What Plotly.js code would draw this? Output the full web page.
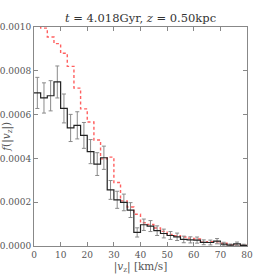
<!DOCTYPE html>
<html>
<head>
<meta charset="utf-8">
<script src="https://cdn.plot.ly/plotly-3.0.1.min.js"></script>
<style>html,body{margin:0;padding:0;background:#fff;}#chart{width:274px;height:274px;}</style>
</head>
<body>
<div id="chart"></div>
<script>
// bin edges in |v_z| [km/s]
var binEdges = [0,2.5,5,7.5,10,12.5,15,17.5,20,22.5,25,27.5,30,32.5,35,37.5,40,42.5,45,47.5,50,52.5,55,57.5,60,62.5,65,67.5,70,72.5,75,77.5,80];
var binCenters = [1.25,3.75,6.25,8.75,11.25,13.75,16.25,18.75,21.25,23.75,26.25,28.75,31.25,33.75,36.25,38.75,41.25,43.75,46.25,48.75,51.25,53.75,56.25,58.75,61.25,63.75,66.25,68.75,71.25,73.75,76.25,78.75];
// measured distribution (black)
var fMeasured = [0.000699,0.000676,0.000686,0.000749,0.000628,0.000539,0.000551,0.000505,0.000431,0.000374,0.000403,0.000256,0.000211,0.000199,0.000164,0.000062,0.000097,0.000091,0.000070,0.000057,0.000048,0.000042,0.000030,0.000028,0.000027,0.000017,0.000016,0.000022,0.000009,0.000004,0.000010,0.000003];
var fErr = [0.000071,0.000069,0.000069,0.000073,0.000066,0.000062,0.000062,0.000059,0.000055,0.000052,0.000053,0.000043,0.000039,0.000038,0.000034,0.000021,0.000026,0.000025,0.000022,0.000020,0.000018,0.000017,0.000015,0.000014,0.000014,0.000011,0.000011,0.000012,0.000008,0.000005,0.000008,0.000005];
// model distribution (red dashed)
var fModel = [0.00105,0.000995,0.000954,0.000924,0.000880,0.000820,0.000721,0.000626,0.000566,0.000484,0.000398,0.000406,0.000290,0.000206,0.000178,0.000145,0.000106,0.000098,0.000082,0.000067,0.000053,0.000047,0.000041,0.000036,0.000032,0.000017,0.000020,0.000019,0.000013,0.000006,0.000004,0.000002];

function stepY(v){ return v.concat([v[v.length-1]]); }

var font = "DejaVu Serif";
var traces = [
  {x: binEdges, y: stepY(fModel), mode: 'lines', line: {shape: 'hv', color: '#ff6060', width: 1.4, dash: '3px,2.5px'}, hoverinfo: 'skip'},
  {x: binCenters, y: fMeasured, mode: 'markers', marker: {size: 1, color: 'rgba(0,0,0,0)'},
   error_y: {type: 'data', array: fErr, visible: true, color: '#8a8a8a', thickness: 1, width: 2}, hoverinfo: 'skip'},
  {x: binEdges, y: stepY(fMeasured), mode: 'lines', line: {shape: 'hv', color: '#222', width: 1.2}, hoverinfo: 'skip'}
];

var axisCommon = {
  showgrid: false, zeroline: false, showline: true, linecolor: '#888', linewidth: 1,
  mirror: 'ticks', ticks: 'inside', ticklen: 4, tickcolor: '#888', tickwidth: 1,
  tickfont: {family: font, size: 9, color: '#555'}
};

var layout = {
  width: 274, height: 274,
  margin: {l: 34, r: 27, t: 27, b: 28},
  paper_bgcolor: '#fff', plot_bgcolor: '#fff',
  font: {family: font},
  showlegend: false,
  title: {text: '<i>t</i> = 4.018Gyr, <i>z</i> = 0.50kpc', font: {family: font, size: 11.5, color: '#333'}, x: 0.513, xanchor: 'center', y: 0.935, yanchor: 'middle'},
  xaxis: Object.assign({}, axisCommon, {range: [0, 80], dtick: 10, tick0: 0,
    title: {text: '|<i>v</i><sub>z</sub>| [km/s]', font: {family: font, size: 10.5, color: '#555'}, standoff: 2}}),
  yaxis: Object.assign({}, axisCommon, {range: [0, 0.001], dtick: 0.0002, tick0: 0, tickformat: '.4f'}),
  annotations: [{
    text: '<i>f</i>(|<i>v</i><sub>z</sub>|)', xref: 'paper', yref: 'paper', x: -0.13, y: 0.5,
    xanchor: 'center', yanchor: 'middle', textangle: -90, showarrow: false,
    font: {family: font, size: 10.5, color: '#555'}
  }]
};

Plotly.newPlot('chart', traces, layout, {staticPlot: true, displayModeBar: false});
</script>
</body>
</html>
